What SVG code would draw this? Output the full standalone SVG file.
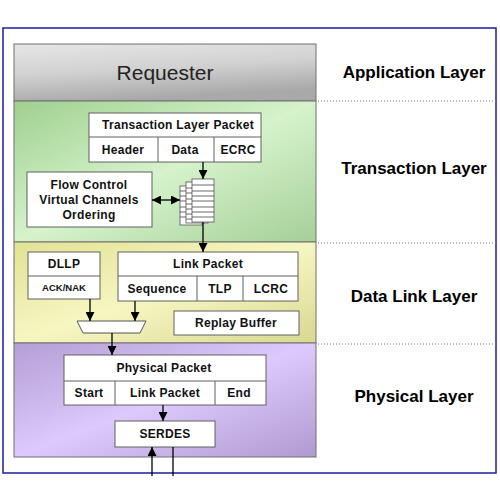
<svg xmlns="http://www.w3.org/2000/svg" width="500" height="500" viewBox="0 0 500 500">
<defs>
<linearGradient id="gGray" x1="0" y1="0" x2="0.3" y2="1">
<stop offset="0" stop-color="#e6e6e6"/><stop offset="0.5" stop-color="#d2d2d2"/><stop offset="1" stop-color="#a9a9a9"/>
</linearGradient>
<linearGradient id="gGreen" x1="0" y1="0" x2="1" y2="1">
<stop offset="0" stop-color="#9fd08f"/><stop offset="0.5" stop-color="#d6f3cc"/><stop offset="1" stop-color="#a5cf98"/>
</linearGradient>
<linearGradient id="gYellow" x1="0" y1="0" x2="1" y2="1">
<stop offset="0" stop-color="#e2e294"/><stop offset="0.5" stop-color="#f6f6c2"/><stop offset="1" stop-color="#d8d890"/>
</linearGradient>
<linearGradient id="gPurple" x1="0" y1="0" x2="1" y2="1">
<stop offset="0" stop-color="#b49ed6"/><stop offset="0.5" stop-color="#ddc9fb"/><stop offset="1" stop-color="#b09ad0"/>
</linearGradient>
<marker id="ah" viewBox="0 0 10 10" refX="10" refY="5" markerWidth="9" markerHeight="9" markerUnits="userSpaceOnUse" orient="auto-start-reverse">
<path d="M0,0 L10,5 L0,10 z" fill="#000"/>
</marker>
<style>
.box{fill:#fff;stroke:#606060;stroke-width:1}
.t{font-family:"Liberation Sans",Arial,sans-serif;font-weight:bold;font-size:12px;fill:#111;text-anchor:middle;letter-spacing:0.3px}
.lab{font-family:"Liberation Sans",Arial,sans-serif;font-weight:bold;font-size:17px;fill:#000;text-anchor:middle}
.dot{stroke:#777;stroke-width:1;stroke-dasharray:1,2}
.c{stroke:#000;stroke-width:1.3;fill:none}
.pg{fill:#fff;stroke:#555;stroke-width:0.8}
</style>
</defs>
<rect x="0" y="0" width="500" height="500" fill="#fff"/>
<rect x="3" y="28" width="493" height="445" fill="#fff" stroke="#2a2aa8" stroke-width="1.6"/>

<g id="layers">
<rect x="14" y="44" width="302" height="57" fill="url(#gGray)" stroke="#707070"/>
<rect x="14" y="101" width="302" height="141" fill="url(#gGreen)" stroke="#707070"/>
<rect x="14" y="242" width="302" height="101" fill="url(#gYellow)" stroke="#707070"/>
<rect x="14" y="343" width="302" height="114" fill="url(#gPurple)" stroke="#707070"/>
<text x="165" y="80" font-family="Liberation Sans,Arial,sans-serif" font-size="21" fill="#222" text-anchor="middle">Requester</text>
</g>

<g id="layer-labels">
<line class="dot" x1="318" y1="101" x2="496" y2="101"/>
<line class="dot" x1="318" y1="243" x2="496" y2="243"/>
<line class="dot" x1="318" y1="344" x2="496" y2="344"/>
<text class="lab" x="414" y="78">Application Layer</text>
<text class="lab" x="414" y="174">Transaction Layer</text>
<text class="lab" x="414" y="302">Data Link Layer</text>
<text class="lab" x="414" y="402">Physical Layer</text>
</g>

<g id="tlp">
<rect class="box" x="89" y="113" width="172" height="49"/>
<line stroke="#606060" x1="89" y1="137" x2="261" y2="137"/>
<line stroke="#606060" x1="158" y1="137" x2="158" y2="162"/>
<line stroke="#606060" x1="214" y1="137" x2="214" y2="162"/>
<text class="t" x="178" y="129">Transaction Layer Packet</text>
<text class="t" x="123" y="154">Header</text>
<text class="t" x="185" y="154">Data</text>
<text class="t" x="238" y="154">ECRC</text>
</g>

<g id="flow-control">
<rect class="box" x="27" y="172" width="125" height="55"/>
<text class="t" x="89" y="189">Flow Control</text>
<text class="t" x="89" y="204">Virtual Channels</text>
<text class="t" x="89" y="219">Ordering</text>
</g>

<g id="queue">
<rect class="pg" x="180" y="186" width="22" height="39"/>
<rect class="pg" x="186" y="182" width="22" height="41"/>
<rect class="pg" x="192" y="179" width="22" height="43"/>
<g stroke="#444" stroke-width="0.8">
<line x1="180" y1="191" x2="186" y2="191"/><line x1="180" y1="196" x2="186" y2="196"/><line x1="180" y1="201" x2="186" y2="201"/><line x1="180" y1="207" x2="186" y2="207"/><line x1="180" y1="212" x2="186" y2="212"/><line x1="180" y1="217" x2="186" y2="217"/>
<line x1="186" y1="188" x2="192" y2="188"/><line x1="186" y1="193" x2="192" y2="193"/><line x1="186" y1="199" x2="192" y2="199"/><line x1="186" y1="204" x2="192" y2="204"/><line x1="186" y1="209" x2="192" y2="209"/><line x1="186" y1="214" x2="192" y2="214"/><line x1="186" y1="219" x2="192" y2="219"/>
<line x1="192" y1="185" x2="214" y2="185"/><line x1="192" y1="191" x2="214" y2="191"/><line x1="192" y1="196" x2="214" y2="196"/><line x1="192" y1="201" x2="214" y2="201"/><line x1="192" y1="207" x2="214" y2="207"/><line x1="192" y1="212" x2="214" y2="212"/><line x1="192" y1="217" x2="214" y2="217"/>
</g>
</g>

<g id="dllp">
<rect class="box" x="28" y="252" width="72" height="47"/>
<line stroke="#606060" x1="28" y1="276" x2="100" y2="276"/>
<text class="t" x="64" y="268">DLLP</text>
<text class="t" x="64" y="291" style="font-size:9.5px;letter-spacing:0">ACK/NAK</text>
</g>

<g id="link-packet">
<rect class="box" x="118" y="252" width="180" height="49"/>
<line stroke="#606060" x1="118" y1="276" x2="298" y2="276"/>
<line stroke="#606060" x1="197" y1="276" x2="197" y2="301"/>
<line stroke="#606060" x1="243" y1="276" x2="243" y2="301"/>
<text class="t" x="208" y="268">Link Packet</text>
<text class="t" x="157" y="293">Sequence</text>
<text class="t" x="220" y="293">TLP</text>
<text class="t" x="271" y="293">LCRC</text>
</g>

<g id="replay-buffer">
<rect class="box" x="174" y="311" width="125" height="24"/>
<text class="t" x="236" y="327">Replay Buffer</text>
</g>

<g id="mux">
<polygon points="77,321 146,321 140,333 83,333" fill="#fff" stroke="#555"/>
</g>

<g id="physical-packet">
<rect class="box" x="64" y="355" width="202" height="50"/>
<line stroke="#606060" x1="64" y1="381" x2="266" y2="381"/>
<line stroke="#606060" x1="115" y1="381" x2="115" y2="405"/>
<line stroke="#606060" x1="215" y1="381" x2="215" y2="405"/>
<text class="t" x="164" y="372">Physical Packet</text>
<text class="t" x="89" y="397">Start</text>
<text class="t" x="165" y="397">Link Packet</text>
<text class="t" x="239" y="397">End</text>
</g>

<g id="serdes">
<rect class="box" x="115" y="421" width="100" height="26"/>
<text class="t" x="165" y="438">SERDES</text>
</g>

<g id="connectors">
<line class="c" x1="203" y1="162" x2="203" y2="179" marker-end="url(#ah)"/>
<line class="c" x1="203" y1="222" x2="203" y2="252" marker-end="url(#ah)"/>
<line class="c" x1="152" y1="200" x2="180" y2="200" marker-start="url(#ah)" marker-end="url(#ah)"/>
<line class="c" x1="90" y1="299" x2="90" y2="321" marker-end="url(#ah)"/>
<line class="c" x1="135" y1="301" x2="135" y2="321" marker-end="url(#ah)"/>
<line class="c" x1="112" y1="333" x2="112" y2="355" marker-end="url(#ah)"/>
<line class="c" x1="163" y1="405" x2="163" y2="421" marker-end="url(#ah)"/>
<line class="c" x1="152" y1="476" x2="152" y2="447" marker-end="url(#ah)"/>
<line class="c" x1="173" y1="447" x2="173" y2="476"/>
</g>
</svg>
